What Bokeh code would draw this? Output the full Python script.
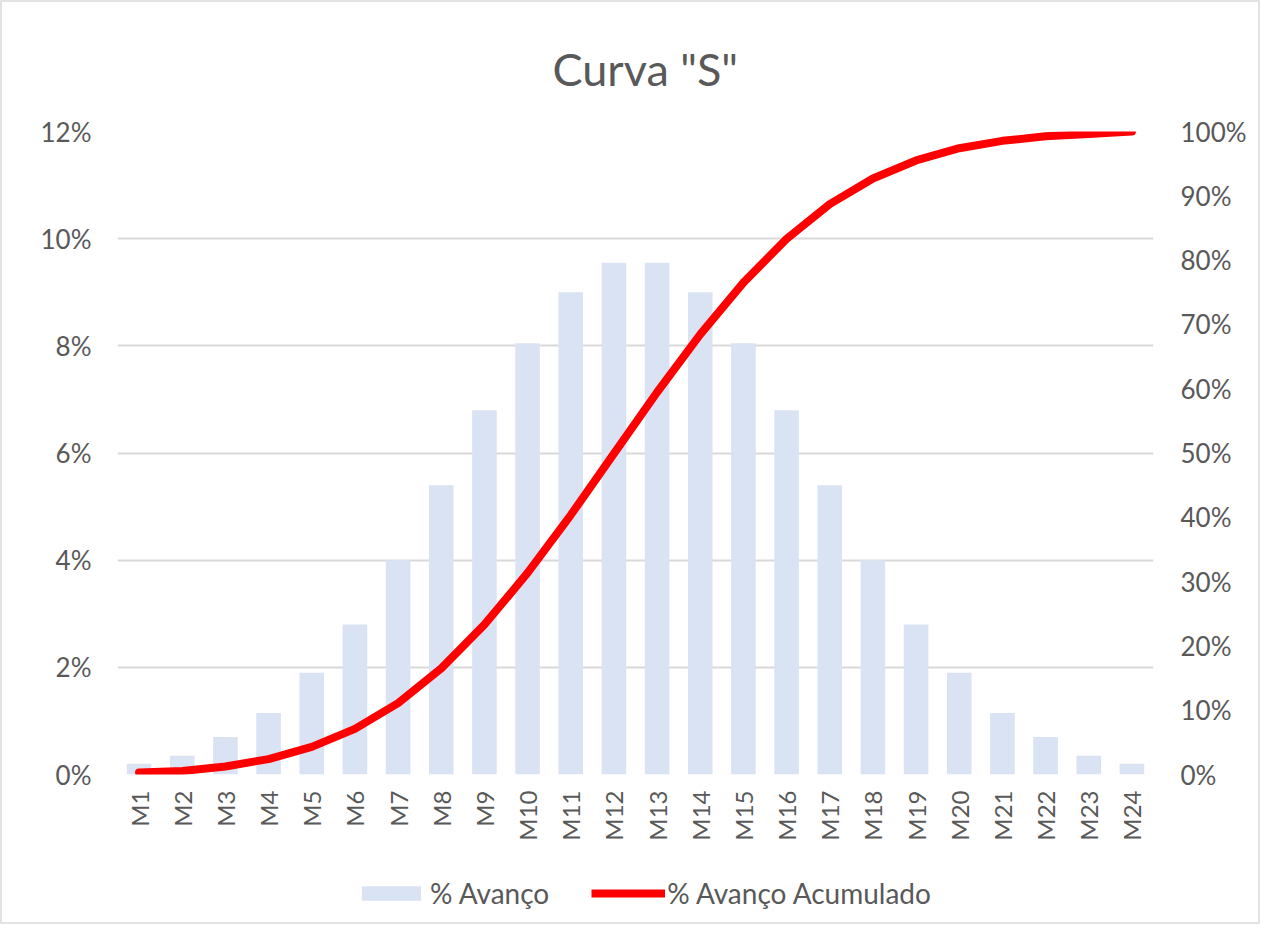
import math
from bokeh.plotting import figure
from bokeh.layouts import column
from bokeh.models import (FactorRange, Range1d, LinearAxis, NumeralTickFormatter,
                          Legend, LegendItem, FixedTicker, ColumnDataSource)
from bokeh.embed import file_html
from bokeh.resources import INLINE

# ---- data ----
months = ["M1", "M2", "M3", "M4", "M5", "M6", "M7", "M8", "M9", "M10", "M11", "M12",
          "M13", "M14", "M15", "M16", "M17", "M18", "M19", "M20", "M21", "M22", "M23", "M24"]
avance = [0.002, 0.0035, 0.007, 0.0115, 0.019, 0.028, 0.040, 0.054, 0.068, 0.0805, 0.090, 0.0955,
          0.0955, 0.090, 0.0805, 0.068, 0.054, 0.040, 0.028, 0.019, 0.0115, 0.007, 0.0035, 0.002]
acumulado = [0.003, 0.0055, 0.0125, 0.024, 0.043, 0.071, 0.111, 0.165, 0.233, 0.3135, 0.4035, 0.499,
             0.5945, 0.6845, 0.765, 0.833, 0.887, 0.927, 0.955, 0.974, 0.9855, 0.9925, 0.996, 1.0]
left_ticks = [0, 0.02, 0.04, 0.06, 0.08, 0.10, 0.12]
right_ticks = [0, 0.1, 0.2, 0.3, 0.4, 0.5, 0.6, 0.7, 0.8, 0.9, 1.0]
series_names = ["% Avanço", "% Avanço Acumulado"]

src = ColumnDataSource(data=dict(m=months, av=avance, ac=acumulado))

FONT = "Lato"
GRAY = "#595959"
BAR_COLOR = "#dae3f3"
LINE_COLOR = "#ff0000"
W = 1256

p = figure(x_range=FactorRange(*months), y_range=Range1d(0, 0.12),
           frame_width=1036, frame_height=643,
           min_border_left=115, min_border_right=W - 115 - 1036, min_border_top=129, min_border_bottom=88,
           output_backend="svg", toolbar_location=None,
           background_fill_color="white", border_fill_color="white", outline_line_color=None)

p.title.text = 'Curva "S"'
p.title.align = "left"
p.title.offset = 435
p.title.vertical_align = "middle"
p.title.text_font = FONT
p.title.text_font_size = "45px"
p.title.text_font_style = "normal"
p.title.text_color = GRAY
p.title.standoff = 70

p.extra_y_ranges = {"acum": Range1d(0, 1)}

bars = p.vbar(x="m", top="av", width=0.57, source=src, fill_color=BAR_COLOR, line_color=None)
line = p.line(x="m", y="ac", source=src, y_range_name="acum", line_color=LINE_COLOR,
              line_width=8, line_cap="round", line_join="round")

# grid
p.xgrid.visible = False
p.ygrid.ticker = FixedTicker(ticks=left_ticks)
p.ygrid.grid_line_color = "#d9d9d9"
p.ygrid.grid_line_width = 2

# left axis
ya = p.yaxis[0]
ya.ticker = FixedTicker(ticks=left_ticks)
ya.formatter = NumeralTickFormatter(format="0%")
ya.axis_line_color = None
ya.major_tick_line_color = None
ya.minor_tick_line_color = None
ya.major_label_text_font = FONT
ya.major_label_text_font_size = "26px"
ya.major_label_text_color = GRAY
ya.major_label_standoff = 20

# right axis
ra = LinearAxis(y_range_name="acum", ticker=FixedTicker(ticks=right_ticks),
                formatter=NumeralTickFormatter(format="0%"))
ra.axis_line_color = None
ra.major_tick_line_color = None
ra.minor_tick_line_color = None
ra.major_label_text_font = FONT
ra.major_label_text_font_size = "26px"
ra.major_label_text_color = GRAY
ra.major_label_standoff = 21
p.add_layout(ra, "right")

# x axis
xa = p.xaxis[0]
xa.axis_line_color = None
xa.major_tick_line_color = None
xa.minor_tick_line_color = None
xa.major_tick_out = 0
xa.major_tick_in = 0
xa.major_label_orientation = math.pi / 2
xa.major_label_text_font = FONT
xa.major_label_text_font_size = "24px"
xa.major_label_text_color = GRAY
xa.major_label_standoff = 16

# legend strip below the chart (proxy glyphs sit outside the strip's visible range)
lg = figure(width=W, height=60, x_range=Range1d(0, 1), y_range=Range1d(0, 1),
            output_backend="svg", toolbar_location=None, min_border=0,
            background_fill_color="white", border_fill_color="white", outline_line_color=None)
lg.axis.visible = False
lg.grid.visible = False
lg_bar = lg.vbar(x=[5], top=[5], bottom=[4], width=0.5, fill_color=BAR_COLOR, line_color=None)
lg_line = lg.line(x=[5, 6], y=[5, 5], line_color=LINE_COLOR, line_width=8)
legend = Legend(items=[LegendItem(label=series_names[0], renderers=[lg_bar]),
                       LegendItem(label=series_names[1], renderers=[lg_line])],
                orientation="horizontal", location=(237, 12),
                border_line_color=None, background_fill_alpha=0,
                label_text_font=FONT, label_text_font_size="28px", label_text_color=GRAY,
                glyph_width=74, glyph_height=18, label_standoff=2, spacing=42,
                padding=0, margin=0)
lg.add_layout(legend, "center")

layout = column(p, lg, spacing=0)
layout.styles = {"border": "2px solid #e3e3e3", "background-color": "white"}

open("out.html", "w").write(file_html(layout, INLINE))
